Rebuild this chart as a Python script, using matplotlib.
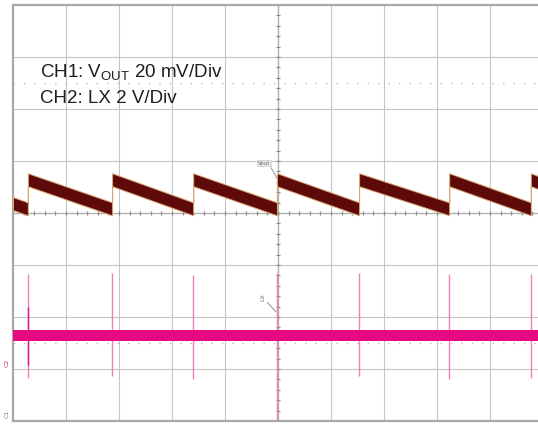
"""Oscilloscope capture: output ripple (CH1) and switch node (CH2)."""

import matplotlib
matplotlib.use("Agg")
import matplotlib.pyplot as plt
import numpy as np

# CH1 (VOUT) sawtooth vertices, in graticule divisions
ch1_t = [0.0, 0.28, 0.28, 1.87, 1.87, 3.40, 3.40, 4.98, 4.98,
         6.53, 6.53, 8.23, 8.23, 9.77, 9.77, 10.0]
ch1_v = [0.18, 0.08, 0.64, 0.08, 0.64, 0.08, 0.64, 0.08, 0.64,
         0.08, 0.64, 0.08, 0.64, 0.08, 0.64, 0.55]

# CH2 (LX) baseline level and switching spikes
ch2_level = -2.35
spike_t = [0.28, 1.87, 3.40, 4.98, 6.53, 8.23, 9.77]
spike_top = [-1.17, -1.15, -1.19, -1.15, -1.15, -1.17, -1.17]
spike_bottom = [-3.17, -3.13, -3.19, -4.0, -3.13, -3.19, -3.17]

ch1_band = 0.125  # half thickness of the noisy traces
ch2_band = 0.108

fig = plt.figure(figsize=(5.38, 4.24), dpi=100)
ax = fig.add_axes([13 / 538, 3 / 424, 530 / 538, 416 / 424])
ax.set_xlim(0, 10)
ax.set_ylim(-4, 4)
ax.set_xticks([])
ax.set_yticks([])
ax.spines["right"].set_visible(False)
for side in ["top", "left", "bottom"]:
    ax.spines[side].set_color("#a8a8a8")
    ax.spines[side].set_linewidth(1.6)

# graticule
grid_col = "#c6c6c6"
for gx in range(1, 10):
    ax.axvline(gx, color=grid_col, lw=0.8, zorder=1)
for gy in range(-3, 4):
    ax.axhline(gy, color=grid_col, lw=0.8, zorder=1)
ax.axvline(5, color="#b0b0b0", lw=0.9, zorder=1)
ax.axhline(0, color="#b0b0b0", lw=0.9, zorder=1)
for gy in (2.5, -2.5):
    ax.axhline(gy, color="#b8b8b8", lw=1.0, ls=(0, (1, 6.5)), zorder=1)
minor = np.arange(0, 10.01, 0.2)
ax.vlines(minor, -0.035, 0.035, color="#8a8a8a", lw=0.9, zorder=1)
minor_y = np.arange(-4, 4.01, 0.2)
ax.hlines(minor_y, 4.965, 5.035, color="#8a8a8a", lw=0.9, zorder=1)

# CH2 trace
for t, top, bot in zip(spike_t, spike_top, spike_bottom):
    ax.vlines(t, bot, top, color="#f27fbd", lw=1.0, zorder=2)
ax.vlines(spike_t[0], -2.92, -1.81, color="#d81a78", lw=1.0, zorder=3)
ax.fill_between([0, 10], ch2_level - ch2_band, ch2_level + ch2_band,
                color="#e6097f", lw=0, zorder=3)

# CH1 trace
v = np.array(ch1_v)
ax.fill_between(ch1_t, v - ch1_band, v + ch1_band, facecolor="#5e0a0a",
                edgecolor="#d9a673", lw=0.7, zorder=4)

# trace markers
ax.text(4.74, 0.96, "Vout", fontsize=4, color="#707070", ha="center",
        va="center", bbox=dict(fc="#e6e6e6", ec="#c0c0c0", lw=0.4, pad=0.6),
        zorder=5)
ax.plot([4.87, 4.98], [0.87, 0.67], color="#808080", lw=0.6, zorder=5)
ax.text(4.72, -1.62, "LX", fontsize=4.5, color="#707070", ha="center",
        va="center", rotation=90, zorder=5)
ax.plot([4.80, 4.96], [-1.72, -1.90], color="#808080", lw=0.6, zorder=5)

fig.text(7 / 538, 1 - 363 / 424, "C2", fontsize=4.5, color="#e0308c",
         rotation=90, ha="center", va="center")
fig.text(7 / 538, 1 - 414 / 424, "C1", fontsize=4.5, color="#a07050",
         rotation=90, ha="center", va="center")

# channel legend
ax.text(0.51, 2.69, r"CH1: V$_{\mathregular{OUT}}$ 20 mV/Div", fontsize=13.5,
        family="Liberation Sans", color="#1e1e1e", va="center", zorder=6)
ax.text(0.51, 2.21, "CH2: LX 2 V/Div", fontsize=13.5,
        family="Liberation Sans", color="#1e1e1e", va="center", zorder=6)

fig.savefig("out.png", dpi=100)
